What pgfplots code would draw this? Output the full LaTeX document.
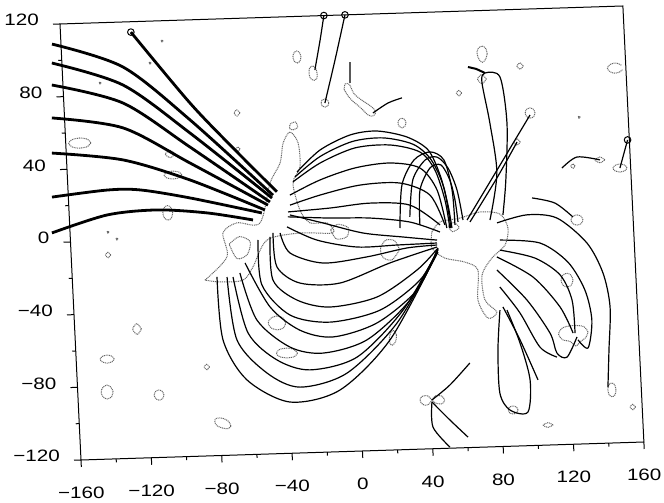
\documentclass[border=0pt]{standalone}
\usepackage{fontspec}
\setmainfont{Liberation Sans}
\newfontfamily\tickfont[FakeStretch=1.25]{Liberation Sans}
\usepackage{pgfplots}
\pgfplotsset{compat=1.18}
\pgfplotsset{
  fl/.style={black, line width=1.2pt, smooth, no markers},
  tl/.style={black, line width=2.8pt, smooth, no markers},
  ct/.style={black!60, line width=1pt, dash pattern=on 1pt off 0.8pt, smooth, no markers},
}
\begin{document}
\begin{tikzpicture}
\begin{axis}[
  x={(1.759pt,0.05625pt)}, y={(-0.0875pt,1.8167pt)},
  xmin=-160, xmax=160, ymin=-120, ymax=120,
  clip=false,
  tick pos=left, tick align=outside,
  xtick={-160,-120,-80,-40,0,40,80,120,160},
  xticklabels={−160,−120,−80,−40,0,40,80,120,160},
  ytick={-120,-80,-40,0,40,80,120},
  yticklabels={−120,−80,−40,0,40,80,120},
  minor tick num=1,
  major tick length=7pt, minor tick length=3.5pt,
  axis line style={line width=1pt},
  every tick/.style={black, line width=1pt},
  tick label style={font=\tickfont\fontsize{16.5}{19}\selectfont, inner sep=0pt},
  xticklabel style={anchor=center, yshift=-26pt},
  yticklabel style={anchor=east, xshift=-14pt, yshift=4pt},
]
\coordinate (BL) at (axis cs:-160,-120);
% ---------------- contours (dotted, gray) ----------------
% left spot
\addplot[ct] coordinates {(-84.7,-23.3) (-71.6,-11) (-73.2,2.3) (-65,7.6) (-51.9,7.1) (-45.1,28.9) (-38.9,39.7) (-36.6,50.6) (-32.4,56.6) (-28.1,50.4) (-27.7,37.1) (-32.1,28.5) (-28.9,13.5) (-23.5,6.3) (-13.9,6) (-10.8,0.4) (-29.5,0.9) (-48.4,-2.4) (-57.1,-16.9) (-63.1,-24) (-76.2,-24.6) (-84.7,-23.3)};
\addplot[ct] coordinates {(-70,-4) (-64,0) (-58,-3) (-60,-10) (-66,-12) (-70,-4)};
\addplot[ct] coordinates {(-30.7,57.7) (-28,59) (-29,62) (-32,61) (-32.5,58.5) (-30.7,57.7)};
% right spot
\addplot[ct] coordinates {(45.4,-0.9) (50.3,4.5) (61.7,6.3) (73.3,9.3) (84.5,7.8) (88.7,0) (86.6,-9.3) (78.8,-16.2) (72.7,-25.4) (73.7,-39.2) (80.1,-46) (74.9,-49.2) (69.7,-39.1) (70.5,-22.6) (63.4,-18) (52.1,-15.4) (45,-9.7) (45.4,-0.9)};
\addplot[ct] coordinates {(55,2) (58,4) (61,1) (57,-1) (55,2)};
% middle blobs
\addplot[ct] coordinates {(26.6,-10) (24,-5) (19,-4.5) (15.8,-9) (17,-14) (22,-15.5) (26.6,-10)};
\addplot[ct] coordinates {(-12,2) (-8,5) (-2,3) (-3,-2) (-9,-3) (-12,2)};
% isolated contours
\addplot[ct] coordinates {(-145.7,54.2) (-147.6,56.2) (-152,57) (-156.4,56.2) (-158.3,54.2) (-156.4,52.2) (-152,51.4) (-147.6,52.2) (-145.7,54.2)};
\addplot[ct] coordinates {(-98.2,46.6) (-101,48.6) (-103.8,46.6) (-101,44.6) (-98.2,46.6)};
\addplot[ct] coordinates {(-95,35) (-96.5,36.5) (-100,37.2) (-103.5,36.5) (-105,35) (-103.5,33.5) (-100,32.8) (-96.5,33.5) (-95,35)};
\addplot[ct] coordinates {(-101.2,14.3) (-102,17.1) (-104,18.3) (-106,17.1) (-106.8,14.3) (-106,11.5) (-104,10.3) (-102,11.5) (-101.2,14.3)};
\addplot[ct] coordinates {(-60.3,68) (-62,69.7) (-63.7,68) (-62,66.3) (-60.3,68)};
\addplot[ct] coordinates {(-61.2,48.1) (-62.4,49.3) (-63.6,48.1) (-62.4,46.9) (-61.2,48.1)};
\addplot[ct] coordinates {(-137.5,-7.8) (-139,-6.3) (-140.5,-7.8) (-139,-9.3) (-137.5,-7.8)};
\addplot[ct] coordinates {(-138.4,-65) (-139.6,-63.5) (-142.4,-62.8) (-145.2,-63.5) (-146.4,-65) (-145.2,-66.5) (-142.4,-67.2) (-139.6,-66.5) (-138.4,-65)};
\addplot[ct] coordinates {(-139.9,-83.1) (-141,-80.5) (-143.3,-79.3) (-145.6,-80.5) (-146.7,-83.1) (-145.7,-85.8) (-143.3,-86.9) (-140.9,-85.8) (-139.9,-83.1)};
\addplot[ct] coordinates {(-122.1,-49) (-124.6,-46) (-127.1,-49) (-124.6,-52) (-122.1,-49)};
\addplot[ct] coordinates {(-111.1,-85.7) (-112,-83.7) (-113.9,-82.9) (-115.8,-83.7) (-116.7,-85.7) (-115.8,-87.7) (-113.9,-88.5) (-112,-87.7) (-111.1,-85.7)};
\addplot[ct] coordinates {(-74,-104) (-75,-101.5) (-78.5,-99.5) (-82,-99.5) (-83,-101) (-82,-103.5) (-78.5,-105) (-75.5,-105.3) (-74,-104)};
\addplot[ct] coordinates {(81.7,96) (81,99) (79,100.5) (76.5,99) (76,96) (77,93) (78.7,91.5) (80.5,93) (81.7,96)};
\addplot[ct] coordinates {(101.8,88.8) (100,90.6) (98.2,88.8) (100,87) (101.8,88.8)};
\addplot[ct] coordinates {(157.5,87.5) (155.5,88.5) (153.8,88.8) (151,88) (149.5,86) (151,84) (153.8,83.2) (156,83.6) (158,85)};
\addplot[ct] coordinates {(107.2,62.8) (106.4,64.8) (104.4,65.6) (102.4,64.8) (101.6,62.8) (102.4,60.8) (104.4,60) (106.4,60.8) (107.2,62.8)};
\addplot[ct] coordinates {(98,47.1) (96.2,48.9) (94.4,47.1) (96.2,45.3) (98,47.1)};
\addplot[ct] coordinates {(132.7,59.7) (132.1,60.3) (131.5,59.7) (132.1,59.1) (132.7,59.7)};
\addplot[ct] coordinates {(-24.1,97.7) (-24.8,100) (-26.4,101) (-28,100) (-28.7,97.7) (-28,95.4) (-26.4,94.4) (-24.8,95.4) (-24.1,97.7)};
\addplot[ct] coordinates {(-15.4,87.6) (-15.8,90.5) (-17.5,92.5) (-19.5,91.5) (-20,88.6) (-19.3,85.7) (-17.3,84.6) (-15.8,85.3) (-15.4,87.6)};
\addplot[ct] coordinates {(-9.6,71.9) (-10.2,73.5) (-11.8,74.1) (-13.4,73.5) (-14,71.9) (-13.4,70.3) (-11.8,69.7) (-10.2,70.3) (-9.6,71.9)};
\addplot[ct] coordinates {(-0.5,79) (0.2,82) (2.6,81.7) (5,76.5) (9,73) (14,69.5) (16.8,66.5) (15.5,64) (12.5,64.5) (8,69) (4,72.5) (1.5,75.5) (-0.5,79)};
\addplot[ct] coordinates {(33.7,59.6) (33,61.5) (31.4,62.3) (29.8,61.5) (29.1,59.6) (29.8,57.7) (31.4,56.9) (33,57.7) (33.7,59.6)};
\addplot[ct] coordinates {(-40.1,-48.5) (-41.5,-45.5) (-45,-44.3) (-48.5,-45.5) (-50,-48) (-48.5,-50.8) (-45,-51.9) (-41.5,-51) (-40.1,-48.5)};
\addplot[ct] coordinates {(-34.2,-65.2) (-36,-63) (-40.2,-62.1) (-44.4,-62.8) (-46.2,-64.8) (-44.4,-66.7) (-40.2,-67.5) (-36,-66.9) (-34.2,-65.2)};
\addplot[ct] coordinates {(22.5,-57) (21.5,-54.5) (19.7,-54.8) (18.4,-58) (18.6,-61.5) (20,-62.3) (21.8,-60.5) (22.5,-57)};
\addplot[ct] coordinates {(-84.5,-71.1) (-86,-69.6) (-87.5,-71.1) (-86,-72.6) (-84.5,-71.1)};
\addplot[ct] coordinates {(40.8,-93.2) (38.5,-90.8) (35.5,-91) (34,-93) (35.5,-95.5) (38.5,-95.8) (40.8,-93.2)};
\addplot[ct] coordinates {(40.8,-93.2) (43,-91) (46.5,-91.2) (48,-93.5) (46.5,-95.5) (43,-95) (40.8,-93.2)};
\addplot[ct] coordinates {(156.2,-100.6) (154.7,-99.1) (153.2,-100.6) (154.7,-102.1) (156.2,-100.6)};
\addplot[ct] coordinates {(108.9,-109) (106.1,-107.7) (103.3,-109) (106.1,-110.3) (108.9,-109)};
\addplot[ct] coordinates {(145.6,-90.8) (145,-88) (143.3,-87) (141.6,-88) (141,-90.8) (141.6,-93.5) (143.3,-94.6) (145,-93.5) (145.6,-90.8)};
\addplot[ct] coordinates {(89.4,-100.1) (88.6,-98.5) (86.6,-97.9) (84.6,-98.5) (83.8,-100.1) (84.6,-101.7) (86.6,-102.3) (88.6,-101.7) (89.4,-100.1)};
\addplot[ct] coordinates {(131.3,-58.5) (129,-55.5) (123,-54.7) (117,-55.8) (114.5,-59) (116.5,-62.3) (121,-63.5) (124,-66) (127,-63.5) (130,-61.5) (131.3,-58.5)};
\addplot[ct] coordinates {(124.2,-29.7) (123.2,-27) (120.8,-25.9) (118.4,-27) (117.4,-29.7) (118.4,-32.4) (120.8,-33.5) (123.2,-32.4) (124.2,-29.7)};
\addplot[ct] coordinates {(131.5,3.2) (130.5,5.2) (128.1,6) (125.7,5.2) (124.7,3.2) (125.7,1.2) (128.1,0.4) (130.5,1.2) (131.5,3.2)};
\addplot[ct] coordinates {(66.1,75) (64.6,76.5) (63.1,75) (64.6,73.5) (66.1,75)};
\addplot[ct] coordinates {(145.6,35.8) (142.8,37.4) (140,35.8) (142.8,34.2) (145.6,35.8)};
\addplot[ct] coordinates {(157.9,31) (156.7,32.5) (153.9,33.2) (151.1,32.5) (149.9,31) (151.1,29.5) (153.9,28.8) (156.7,29.5) (157.9,31)};
\addplot[ct] coordinates {(128.5,32.9) (127.3,34.1) (126.1,32.9) (127.3,31.7) (128.5,32.9)};
\addplot[ct] coordinates {(80.5,82.3) (78,84.8) (75.5,82.3) (78,79.8) (80.5,82.3)};
\addplot[ct] coordinates {(-138.3,86.9) (-138.9,87.5) (-139.5,86.9) (-138.9,86.3) (-138.3,86.9)};
\addplot[ct] coordinates {(-109.4,97) (-110,97.6) (-110.6,97) (-110,96.4) (-109.4,97)};
\addplot[ct] coordinates {(-102,108.9) (-102.6,109.5) (-103.2,108.9) (-102.6,108.3) (-102,108.9)};
\addplot[ct] coordinates {(-137.9,4.8) (-138.5,5.4) (-139.1,4.8) (-138.5,4.2) (-137.9,4.8)};
\addplot[ct] coordinates {(-133,0.9) (-133.6,1.5) (-134.2,0.9) (-133.6,0.3) (-133,0.9)};
% ---------------- thick open field lines ----------------
\addplot[tl] coordinates {(-120,114.3) (-88.4,74.3) (-64.1,47.7) (-41.5,24)};
\addplot[tl] coordinates {(-165.1,109.1) (-125.5,95.3) (-88.8,65) (-43.8,22.2)};
\addplot[tl] coordinates {(-165.7,98.7) (-126,85.4) (-89.2,57.8) (-44.4,20.6)};
\addplot[tl] coordinates {(-166.3,86.6) (-126.5,75.5) (-89.6,50.1) (-45.7,18.5)};
\addplot[tl] coordinates {(-167.2,68.5) (-127.1,61.8) (-90,41.3) (-46.9,16.8)};
\addplot[tl] coordinates {(-168.1,49.2) (-128,44.2) (-90.5,32) (-48.8,14.2)};
\addplot[tl] coordinates {(-169.3,25) (-137.8,27.9) (-119.1,27.4) (-90.9,22.1) (-50.6,12.6)};
\addplot[tl] coordinates {(-170.3,5.3) (-138.5,14.2) (-110.1,16.1) (-81.8,13.6) (-55.8,8.9)};
% ---------------- upper arches ----------------
\addplot[fl] coordinates {(-29.5,34.5) (-15.8,46.2) (1.6,53.9) (17,55.6) (33.8,51.8) (45.5,44.3) (51.6,30.3) (55.3,13.6) (56.9,1)};
\addplot[fl] coordinates {(-30.8,31.8) (-16,42.6) (2.8,50.3) (20.5,51.7) (37.3,47.6) (47,38.8) (53.5,23) (56.3,1)};
\addplot[fl] coordinates {(-32.1,29.1) (-16.2,39) (4,46.7) (24,47.7) (40.8,43.3) (48.8,33.2) (53.7,16.5) (55.7,1)};
\addplot[fl] coordinates {(-34.2,21.9) (-16.7,29.7) (3.5,35.7) (23.5,37.8) (40.4,34.5) (49.5,22.1) (54,1.1)};
\addplot[fl] coordinates {(-34.4,16.4) (-17.1,21.4) (5.9,26.2) (28.7,26.6) (45.3,19.5) (53,2.8)};
\addplot[fl] coordinates {(-35.7,12.7) (-11.8,14.1) (11,16.1) (33.7,14.3) (50.2,2.9)};
\addplot[fl] coordinates {(-35.9,10) (-12.1,8.6) (10.6,7.9) (33.2,5) (50,-1)};
% petals
\addplot[fl] coordinates {(33.3,7.8) (36,28.1) (43.5,38.8) (50.4,40.2) (56.3,34) (60.8,21.8) (63.4,5.2)};
\addplot[fl] coordinates {(38.8,3.2) (39.8,22.4) (46.1,34.4) (52.4,35.8) (57,27.4) (59.4,16.3) (60.5,4.2)};
\addplot[fl] coordinates {(27.4,1.9) (29.7,25.5) (37.2,39) (46.5,43.2) (54.2,38.5) (58,21.9) (58.7,2.6)};
% ---------------- lower direct lines ----------------
\addplot[fl] coordinates {(-34.7,11) (-16.1,6) (6.3,-0.2) (28.9,-3.1) (48.1,-5.4)};
\addplot[fl] coordinates {(-36.7,4.5) (-20,-3.3) (2.5,-7.8) (25.3,-7.4) (48,-7)};
\addplot[fl] coordinates {(-40.8,1.3) (-35.7,-9.9) (-17.2,-16) (7.8,-13.4) (30.8,-9.2) (48,-8.1)};
\addplot[fl] coordinates {(-44.8,1.4) (-43.5,-17.3) (-30.9,-26.6) (-8.2,-27.3) (20.8,-17.1) (47.9,-9.2)};
\addplot[fl] coordinates {(-46.6,-0.7) (-46.1,-24.5) (-33,-35.9) (-14.5,-40.3) (12.5,-35.6) (35.9,-21.5) (48.4,-9.8)};
\addplot[fl] coordinates {(-53.5,-2.2) (-52.5,-27) (-37.4,-44) (-14.9,-48.6) (13.8,-42.9) (37.3,-27.1) (48.4,-10.3)};
% ---------------- bowls ----------------
\addplot[fl] coordinates {(-77.8,-21.8) (-76.1,-56.5) (-63.6,-78.9) (-39.8,-91.8) (-11.1,-86.1) (18.7,-59.4) (47.8,-12.5)};
\addplot[fl] coordinates {(-72.1,-22) (-68.2,-56.7) (-52,-75.5) (-33.7,-83.8) (-6.6,-76.9) (23.1,-50.3) (48.3,-12)};
\addplot[fl] coordinates {(-68.7,-22.1) (-61.7,-53.1) (-46.1,-68.4) (-27.5,-74.5) (-0.5,-68.3) (26.9,-43.3) (48.3,-10.9)};
\addplot[fl] coordinates {(-64.7,-20) (-56.3,-46.2) (-38.3,-61.6) (-19.7,-65.5) (5.6,-59) (31.1,-37.9) (48.3,-10.9)};
\addplot[fl] coordinates {(-61.5,-14.6) (-48.5,-39.2) (-32.2,-52.5) (-13.6,-56.8) (11.7,-49.9) (35.3,-32.5) (48.4,-9.8)};
% ---------------- right side loops ----------------
\addplot[fl] coordinates {(82.6,3) (99.8,6.9) (116.8,4.6) (133.1,-9.6) (141.4,-26.4) (144.5,-45.2) (142.7,-68.8) (141.1,-89.2)};
\addplot[fl] coordinates {(83.8,-6.5) (106.4,-8.8) (121.8,-19.8) (130.7,-35.5) (133.8,-52.1) (130.9,-67.3) (125.4,-62.7)};
\addplot[fl] coordinates {(83.5,-12) (103.2,-17) (117,-26.7) (123.1,-40.7) (123.9,-58.9)};
\addplot[fl] coordinates {(81.6,-15.7) (101.6,-27.4) (116.1,-44.3) (122.8,-58.9)};
\addplot[fl] coordinates {(81.3,-22.9) (97.5,-39.9) (109.7,-58.5) (113.1,-69.6) (118.7,-72) (124.9,-61.1)};
\addplot[fl] coordinates {(82.5,-32.3) (93.2,-46.9) (103.6,-66) (113,-71.8)};
\addplot[fl] coordinates {(81.9,-45) (79.7,-66.8) (79.6,-90.6) (84.9,-100.1) (95,-101.5) (97.1,-83.9) (92.4,-63.4) (85.9,-45.1)};
\addplot[fl] coordinates {(83.7,-43.3) (92.5,-61.7) (101.6,-84)};
% ---------------- lines rising from right spot ----------------
\addplot[fl] coordinates {(78.7,4.7) (83.9,30.4) (81.3,58) (77.9,80.6) (79.9,85.6) (88.3,83.1) (91,57.7) (88.8,26.4) (86.2,7.3)};
\addplot[black, line width=2pt, no markers] coordinates {(79.9,85.6) (75,88) (70.4,89.2)};
\addplot[fl] coordinates {(65.7,5.1) (104.3,61.7)};
\addplot[fl] coordinates {(67.3,4) (84,28) (96.2,47.1)};
% ---------------- isolated lines ----------------
\addplot[fl] coordinates {(-10,120) (-12.8,106.6) (-16.6,90.2)};
\addplot[fl] coordinates {(2,120) (-4.9,95.3) (-11.8,71.9)};
\addplot[fl] coordinates {(3.6,94) (3,82.5)};
\addplot[fl] coordinates {(15.2,65.6) (24,70.8) (32.1,73.4)};
\addplot[fl] coordinates {(159,46.3) (153.9,31)};
\addplot[fl] coordinates {(121,32) (129.8,37.8) (142.8,35.8)};
\addplot[fl] coordinates {(103.2,16.1) (116,12.9) (125.9,4.9)};
\addplot[fl] coordinates {(63.4,-73.5) (51.4,-85.3) (40.8,-93.2)};
\addplot[fl] coordinates {(40.8,-94.3) (40.7,-108.1) (49.8,-119.4)};
\addplot[fl] coordinates {(40.8,-94.3) (50.5,-104.5) (60.3,-114.2)};
% ---------------- end circles ----------------
\addplot[only marks, mark=o, mark size=3.3pt, black, mark options={line width=1pt}] coordinates {(-120,114.3) (-10,120) (2,120) (159,46.3)};
\end{axis}
\path ([shift={(-81pt,-43pt)}]BL) rectangle ++(664pt,503pt);
\end{tikzpicture}
\end{document}
